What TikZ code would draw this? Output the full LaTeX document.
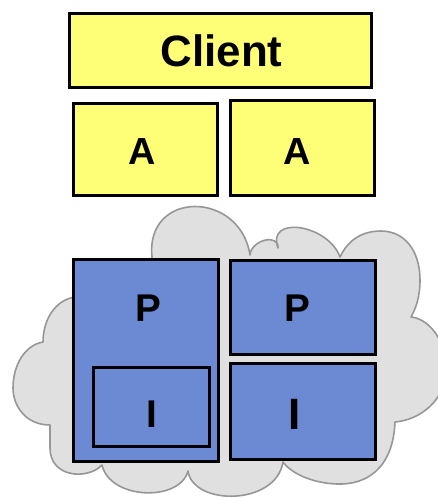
\documentclass[tikz,border=0pt]{standalone}
\usepackage{fontspec}
\setmainfont{Liberation Sans}
\usetikzlibrary{fit}
\definecolor{clientyellow}{RGB}{255,255,119}
\definecolor{serviceblue}{RGB}{108,137,212}
\definecolor{cloudgray}{RGB}{224,224,224}
\definecolor{cloudedge}{RGB}{150,150,150}
\begin{document}
\begin{tikzpicture}[x=0.02cm,y=-0.02cm,
  box/.style={draw=black,line width=1.9pt,inner sep=0pt},
  clientbox/.style={box,fill=clientyellow},
  servicebox/.style={box,fill=serviceblue},
  lbl/.style={inner sep=0pt,anchor=center,font=\bfseries\fontsize{#1}{#1}\selectfont},
  lbl/.default=22]
\useasboundingbox (0,0) rectangle (438,498);
\fill[white] (0,0) rectangle (438,498);

% cloud behind the service boxes
\draw[draw=cloudedge,fill=cloudgray,line width=0.9pt,line join=round]
  (152,257) .. controls (145,190) and (240,190) .. (250,255)
  .. controls (251,240) and (279,233) .. (278,248)
  .. controls (266,215) and (328,224) .. (340,257)
  .. controls (348,240) and (362,231) .. (381,231)
  .. controls (404,231) and (420,250) .. (420,280)
  .. controls (420,297) and (416,308) .. (411,317)
  .. controls (425,318) and (446,335) .. (446,370)
  .. controls (446,400) and (420,420) .. (395,422)
  .. controls (393,470) and (365,485) .. (337,484)
  .. controls (310,483) and (290,472) .. (283,462)
  .. controls (276,506) and (193,506) .. (188,471)
  .. controls (180,502) and (110,500) .. (102,465)
  .. controls (88,480) and (50,478) .. (50,448)
  .. controls (50,440) and (50,432) .. (50,425)
  .. controls (25,425) and (13,405) .. (13,388)
  .. controls (13,365) and (25,345) .. (43,342)
  .. controls (43,320) and (55,300) .. (75,297)
  .. controls (110,290) and (150,290) .. cycle;

% client side
\node[clientbox,fit={(69.5,13.5) (371.5,87.5)}] (client) {};
\node[clientbox,fit={(73.5,103.5) (217.5,195.5)}] (adapterL) {};
\node[clientbox,fit={(230.5,100.5) (374.5,195.5)}] (adapterR) {};
\node[lbl=25] (clientlbl) at (221.5,51) {Client};
\node[lbl=21.5] (adapterLlbl) at (141.7,151) {A};
\node[lbl=21.5] (adapterRlbl) at (296.7,151) {A};

% service side
\node[servicebox,fit={(73.5,259.5) (218.5,461.5)}] (procL) {};
\node[servicebox,fit={(93.5,367.5) (209.5,446.5)}] (implL) {};
\node[servicebox,fit={(230.5,260.5) (375.5,354.5)}] (procR) {};
\node[servicebox,fit={(230.5,363.5) (375.5,459.5)}] (implR) {};
\node[lbl=22] (procLlbl) at (148,308) {P};
\node[lbl=22] (procRlbl) at (297,308) {P};
\node[lbl=22] (implLlbl) at (152,414) {I};
\node[lbl=25] (implRlbl) at (295,414) {I};
\end{tikzpicture}
\end{document}
